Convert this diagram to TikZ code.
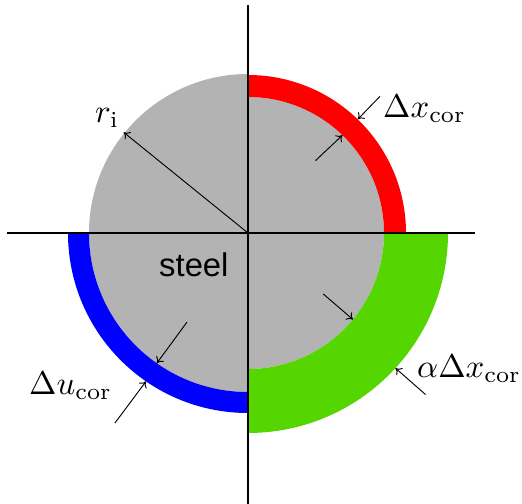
\documentclass[tikz,border=0pt]{standalone}
\usepackage{amsmath}
\usepackage{graphicx}
\usepackage{fontspec}
\newfontfamily\labelsans{Liberation Sans}
\usepackage{tikz}
\usetikzlibrary{arrows.meta}
\definecolor{steelgrey}{RGB}{179,179,179}
\definecolor{corgreen}{RGB}{85,214,0}
\newcommand{\biglbl}[1]{\scalebox{2.8}{#1}}
\tikzset{
    axisline/.style={
        line width=1.6pt,
        black
    },
    % thin arrows for thicknesses and radius
    dimarrow/.style={
        line width=0.8pt,
        black,
        ->,
        >={To[length=5pt, width=8pt]}
    },
    biglabel/.style={
        inner sep=0pt,
        anchor=base west
    }
}
\begin{document}
\begin{tikzpicture}[x=0.03cm,y=0.03cm]
    \useasboundingbox (-248,-271) rectangle (274,233);
    % steel cross section and corrosion layers
    \fill[steelgrey] (0,0) -- (90:159) arc[start angle=90,end angle=270,radius=159] -- cycle;
    \fill[steelgrey] (0,0) -- (-90:136) arc[start angle=-90,end angle=90,radius=136] -- cycle;
    \fill[red] (90:158) arc[start angle=90,end angle=0,radius=158]
        -- (0:136) arc[start angle=0,end angle=90,radius=136] -- cycle;
    \fill[corgreen] (0:200) arc[start angle=0,end angle=-90,radius=200]
        -- (-90:136) arc[start angle=-90,end angle=0,radius=136] -- cycle;
    \fill[blue] (180:180) arc[start angle=180,end angle=270,radius=180]
        -- (270:159) arc[start angle=270,end angle=180,radius=159] -- cycle;
    \path
    (0,0) coordinate (o)
    (0,228) coordinate (top) (0,-271) coordinate (bot)
    (-241,0) coordinate (left) (227,0) coordinate (right)
    (141:160) coordinate (ri)
    (46:190) coordinate (r1) (46:158) coordinate (r2)
    (47:99) coordinate (r3) (46:136) coordinate (r4)
    (-39:97) coordinate (g1) (-39.5:136) coordinate (g2)
    (-42.3:240) coordinate (g3) (-42.5:200) coordinate (g4)
    (235.6:108) coordinate (u1) (235:159) coordinate (u2)
    (235:232) coordinate (u3) (235.5:180) coordinate (u4);
    \draw[axisline] (top) -- (bot);
    \draw[axisline] (left) -- (right);
    \draw[dimarrow] (o) -- (ri);
    \draw[dimarrow] (r1) -- (r2);
    \draw[dimarrow] (r3) -- (r4);
    \draw[dimarrow] (g1) -- (g2);
    \draw[dimarrow] (g3) -- (g4);
    \draw[dimarrow] (u1) -- (u2);
    \draw[dimarrow] (u3) -- (u4);

    \node[biglabel] (rilabel) at (-153,110) {\biglbl{$r_{\mathrm{i}}$}};
    \node[biglabel] (dxcor) at (135,115) {\biglbl{$\Delta x_{\mathrm{cor}}$}};
    \node[biglabel] (adxcor) at (169,-145) {\biglbl{$\alpha\Delta x_{\mathrm{cor}}$}};
    \node[biglabel] (ducor) at (-219,-162) {\biglbl{$\Delta u_{\mathrm{cor}}$}};
    \node[biglabel,font=\labelsans\fontsize{28}{34}\selectfont] (steel) at (-89,-44) {steel};
\end{tikzpicture}
\end{document}
